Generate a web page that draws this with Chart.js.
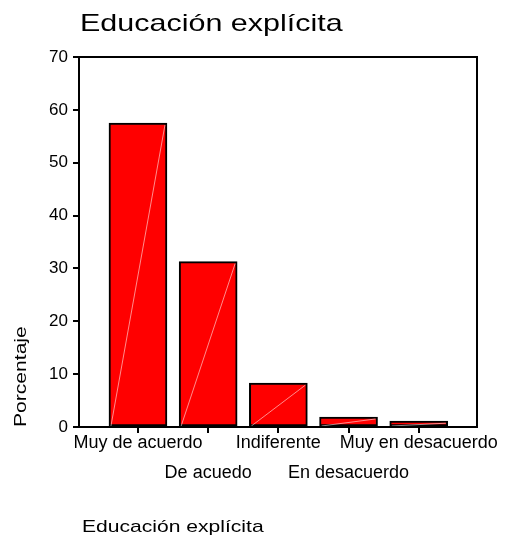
<!DOCTYPE html>
<html>
<head>
<meta charset="utf-8">
<title>Educación explícita</title>
<script src="https://cdn.jsdelivr.net/npm/chart.js@4/dist/chart.umd.min.js"></script>
<style>
  html, body { margin: 0; padding: 0; background: #fff; }
  #wrap { width: 505px; height: 539px; }
</style>
</head>
<body>
<div id="wrap"><canvas id="barChart"></canvas></div>
<script>
const chartTitle = "Educación explícita";
const xTitle = "Educación explícita";
const yTitle = "Porcentaje";
const categories = ["Muy de acuerdo", "De acuedo", "Indiferente", "En desacuerdo", "Muy en desacuerdo"];
const percentages = [57.5, 31.3, 8.3, 1.9, 1.1];
const yTicks = [0, 10, 20, 30, 40, 50, 60, 70];

const FONT = '"Liberation Sans", Arial, sans-serif';

function stretchedText(ctx, text, x, y, size, stretch, angle) {
    ctx.save();
    ctx.translate(x, y);
    if (angle) ctx.rotate(angle);
    ctx.scale(stretch, 1);
    ctx.font = size + "px " + FONT;
    ctx.fillStyle = "#000";
    ctx.textAlign = "left";
    ctx.textBaseline = "alphabetic";
    ctx.fillText(text, 0, 0);
    ctx.restore();
}

// SPSS style: box round the plot, faint diagonal in each bar, wide titles
const spssLook = {
    id: "spssLook",
    afterDatasetsDraw(chart) {
        const ctx = chart.ctx;
        const meta = chart.getDatasetMeta(0);
        ctx.save();
        ctx.strokeStyle = "rgba(255,255,255,0.55)";
        ctx.lineWidth = 1;
        meta.data.forEach(bar => {
            const p = bar.getProps(["x", "y", "base", "width"], true);
            ctx.beginPath();
            ctx.moveTo(p.x - p.width / 2 + 2, p.base);
            ctx.lineTo(p.x + p.width / 2 - 2, p.y + 2);
            ctx.stroke();
        });
        const a = chart.chartArea;
        ctx.strokeStyle = "#000";
        ctx.lineWidth = 2;
        ctx.strokeRect(a.left, a.top, a.right - a.left, a.bottom - a.top);
        ctx.restore();
    },
    afterDraw(chart) {
        const ctx = chart.ctx;
        const a = chart.chartArea;
        stretchedText(ctx, chartTitle, a.left + 1, a.top - 26, 24, 1.27, 0);
        stretchedText(ctx, xTitle, a.left + 3, chart.height - 7, 17, 1.24, 0);
        stretchedText(ctx, yTitle, 26, a.bottom, 17, 1.24, -Math.PI / 2);
    }
};

const ctx = document.getElementById("barChart");

new Chart(ctx, {
    type: "bar",
    data: {
        datasets: [{
            label: yTitle,
            data: percentages.map((v, i) => ({ x: i, y: v })),
            backgroundColor: "#ff0000",
            borderColor: "#000000",
            borderWidth: 2,
            borderSkipped: false,
            barThickness: 58
        }]
    },
    options: {
        responsive: true,
        maintainAspectRatio: false,
        animation: false,
        layout: { padding: { top: 57, right: 28, left: 0, bottom: 0 } },
        plugins: {
            legend: { display: false },
            tooltip: { enabled: false }
        },
        scales: {
            x: {
                type: "linear",
                offset: false,
                min: -0.84,
                max: 4.83,
                afterBuildTicks: scale => {
                    scale.ticks = categories.map((c, i) => ({ value: i }));
                },
                afterFit: scale => { scale.height = 112; },
                ticks: {
                    autoSkip: false,
                    maxRotation: 0,
                    color: "#000",
                    padding: -5,
                    font: { family: FONT, size: 18, lineHeight: 30 / 18 },
                    callback: (value, index) => index % 2 === 0 ? categories[index] : ["", categories[index]]
                },
                grid: {
                    offset: false,
                    drawOnChartArea: false,
                    drawTicks: true,
                    tickLength: 6,
                    color: "#000",
                    lineWidth: 2
                },
                border: { display: true, color: "#000", width: 2 }
            },
            y: {
                min: 0,
                max: 70,
                afterBuildTicks: scale => {
                    scale.ticks = yTicks.map(v => ({ value: v }));
                },
                afterFit: scale => { scale.width = 79; },
                ticks: {
                    color: "#000",
                    padding: 5,
                    font: { family: FONT, size: 17 }
                },
                grid: {
                    drawOnChartArea: false,
                    drawTicks: true,
                    tickLength: 6,
                    color: "#000",
                    lineWidth: 2
                },
                border: { display: true, color: "#000", width: 2 }
            }
        }
    },
    plugins: [spssLook]
});
</script>
</body>
</html>
